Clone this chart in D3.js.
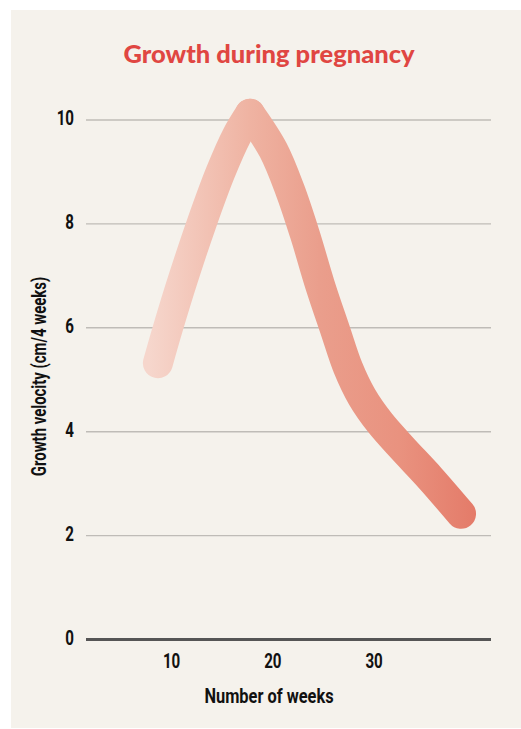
<!DOCTYPE html>
<html>
<head>
<meta charset="utf-8">
<script src="https://cdn.jsdelivr.net/npm/d3@7"></script>
<style>
  html, body { margin: 0; padding: 0; background: #ffffff; }
  svg { display: block; }
  .cond { font-family: Roboto, "Liberation Sans", sans-serif; font-weight: bold; }
</style>
</head>
<body>
<svg id="chart" width="521" height="729"></svg>
<script>
// ---- data ----
const title = "Growth during pregnancy";
const xLabel = "Number of weeks";
const yLabel = "Growth velocity (cm/4 weeks)";
const xTicks = [10, 20, 30];
const yTicks = [0, 2, 4, 6, 8, 10];
// left (rising) arm: weeks and growth velocity (cm / 4 weeks)
const riseWeeks  = [8.7, 9.7, 11.2, 13.0, 14.9, 16.5, 17.8];
const riseValues = [5.32, 6.0, 6.95, 8.0, 9.0, 9.7, 10.12];
// right (falling) arm
const fallWeeks  = [17.8, 20.1, 21.75, 23.23, 24.72, 26.2, 27.48, 28.86, 30.64, 32.81, 35.58, 38.64];
const fallValues = [10.12, 9.42, 8.65, 7.79, 6.82, 5.96, 5.23, 4.67, 4.17, 3.69, 3.11, 2.42];
const gradColors  = ["#f6d6cc", "#efb3a2", "#ea9e8c", "#e9927f", "#e47b69"];
const gradOffsets = [0.02, 0.32, 0.53, 0.77, 1.0];

const svg = d3.select("#chart");

svg.append("rect").attr("x", 11).attr("y", 10).attr("width", 510).attr("height", 718)
  .attr("fill", "#f5f2ec");

const x = d3.scaleLinear().domain([1.6, 41.6]).range([86, 491]);
const y = d3.scaleLinear().domain([0, 10]).range([639.5, 120]);

function condense(sel, f) {
  sel.each(function () {
    const w = this.getComputedTextLength();
    d3.select(this).attr("textLength", w * f).attr("lengthAdjust", "spacingAndGlyphs");
  });
}

// title
svg.append("text").attr("x", 269).attr("y", 63)
  .attr("text-anchor", "middle")
  .attr("font-family", "Lato, 'Open Sans', sans-serif")
  .attr("font-weight", 900).attr("font-size", 25.5)
  .attr("fill", "#e04642").text(title);

// gridlines
const grid = svg.append("g");
grid.selectAll("line").data(yTicks.filter(d => d !== 0)).join("line")
  .attr("x1", x.range()[0]).attr("x2", x.range()[1])
  .attr("y1", d => y(d)).attr("y2", d => y(d))
  .attr("stroke", "#bfbcb7").attr("stroke-width", 1.4);

// y axis labels
const yAxis = d3.axisLeft(y).tickValues(yTicks).tickSize(0).tickPadding(0).tickFormat(d3.format("d"));
const yg = svg.append("g").attr("transform", "translate(74,0)").call(yAxis);
yg.select(".domain").remove();
yg.selectAll("text").attr("class", "cond").attr("font-size", 21).attr("fill", "#111")
  .attr("dy", 0).attr("y", 4.5).attr("x", 0).call(condense, 0.72);

// x axis
const xAxis = d3.axisBottom(x).tickValues(xTicks).tickSize(0).tickPadding(0);
const xg = svg.append("g").call(xAxis);
xg.select(".domain").remove();
xg.selectAll("text").attr("class", "cond").attr("font-size", 21).attr("fill", "#111")
  .attr("y", 668).attr("dy", 0).call(condense, 0.72);

// baseline
svg.append("line").attr("x1", x.range()[0]).attr("x2", x.range()[1])
  .attr("y1", y(0)).attr("y2", y(0)).attr("stroke", "#555").attr("stroke-width", 2.8);

// axis titles
svg.append("text").attr("class", "cond").attr("font-size", 21).attr("fill", "#111")
  .attr("text-anchor", "middle").attr("x", 269).attr("y", 703).text(xLabel).call(condense, 0.78);
svg.append("text").attr("class", "cond").attr("font-size", 21).attr("fill", "#111")
  .attr("text-anchor", "middle").attr("transform", "translate(46,376.5) rotate(-90)").text(yLabel).call(condense, 0.71);

// gradient
const defs = svg.append("defs");
const grad = defs.append("linearGradient").attr("id", "lineGrad")
  .attr("gradientUnits", "userSpaceOnUse")
  .attr("x1", 143).attr("x2", 476).attr("y1", 0).attr("y2", 0);
grad.selectAll("stop").data(gradColors).join("stop")
  .attr("offset", (d, i) => gradOffsets[i]).attr("stop-color", d => d);

const line = d3.line().x(d => x(d[0])).y(d => y(d[1])).curve(d3.curveCatmullRom.alpha(0.5));
const arms = [d3.zip(riseWeeks, riseValues), d3.zip(fallWeeks, fallValues)];
svg.append("g").selectAll("path").data(arms).join("path")
  .attr("d", line).attr("fill", "none").attr("stroke", "url(#lineGrad)")
  .attr("stroke-width", 30).attr("stroke-linecap", "round").attr("stroke-linejoin", "round");
</script>
</body>
</html>
